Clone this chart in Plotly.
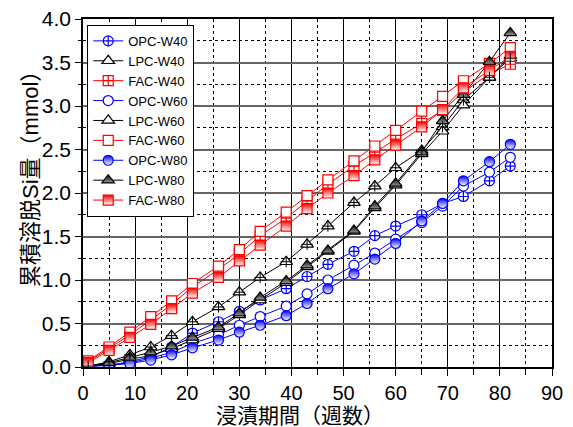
import plotly.graph_objects as go

weeks = [1, 5, 9, 13, 17, 21, 26, 30, 34, 39, 43, 47, 52, 56, 60, 65, 69, 73, 78, 82]

opc_w40 = [0.01, 0.02, 0.06, 0.12, 0.23, 0.39, 0.52, 0.64, 0.77, 0.90, 1.04, 1.18, 1.33, 1.51, 1.62, 1.75, 1.88, 1.96, 2.14, 2.31]
lpc_w40 = [0.01, 0.06, 0.14, 0.23, 0.36, 0.52, 0.69, 0.86, 1.03, 1.21, 1.41, 1.62, 1.89, 2.08, 2.29, 2.49, 2.76, 3.07, 3.33, 3.55]
fac_w40 = [0.06, 0.21, 0.37, 0.54, 0.72, 0.92, 1.12, 1.30, 1.51, 1.71, 1.91, 2.10, 2.31, 2.47, 2.62, 2.80, 2.95, 3.16, 3.37, 3.48]
opc_w60 = [0.01, 0.02, 0.05, 0.10, 0.17, 0.27, 0.37, 0.48, 0.58, 0.70, 0.84, 1.00, 1.17, 1.31, 1.47, 1.66, 1.85, 2.08, 2.24, 2.41]
lpc_w60 = [0.01, 0.04, 0.09, 0.13, 0.21, 0.31, 0.44, 0.60, 0.77, 0.97, 1.15, 1.33, 1.56, 1.83, 2.09, 2.45, 2.71, 3.01, 3.33, 3.58]
fac_w60 = [0.07, 0.23, 0.40, 0.58, 0.76, 0.96, 1.16, 1.35, 1.56, 1.78, 1.97, 2.15, 2.37, 2.54, 2.72, 2.94, 3.11, 3.29, 3.49, 3.67]
opc_w80 = [0.01, 0.02, 0.04, 0.08, 0.14, 0.22, 0.31, 0.40, 0.48, 0.59, 0.73, 0.90, 1.07, 1.24, 1.42, 1.68, 1.88, 2.14, 2.36, 2.56]
lpc_w80 = [0.01, 0.05, 0.11, 0.17, 0.24, 0.34, 0.46, 0.62, 0.80, 0.99, 1.17, 1.34, 1.57, 1.85, 2.11, 2.47, 2.83, 3.13, 3.51, 3.84]
fac_w80 = [0.05, 0.19, 0.34, 0.49, 0.67, 0.85, 1.03, 1.22, 1.40, 1.62, 1.82, 2.00, 2.20, 2.38, 2.55, 2.76, 2.96, 3.21, 3.41, 3.57]

x_title = "浸漬期間（週数）"
y_title = "累積溶脱Si量（mmol）"

BLUE = "#0000ff"
BLACK = "#000000"
RED = "#ff0000"

fig = go.Figure()

def add(name, y, color, symbol, size, gradient=None, fill=None):
    marker = dict(symbol=symbol, size=size, line=dict(color=color, width=1.2))
    marker["color"] = fill if fill is not None else color
    if gradient:
        marker["gradient"] = dict(type="vertical", color=gradient)
    fig.add_trace(go.Scatter(x=weeks, y=y, name=name, mode="lines+markers",
                             line=dict(color=color, width=1), marker=marker))

add("OPC-W40", opc_w40, BLUE, "circle-cross", 10, fill="white")
add("LPC-W40", lpc_w40, BLACK, "triangle-up", 11, fill="white")
add("FAC-W40", fac_w40, RED, "square-cross", 10, fill="white")
add("OPC-W60", opc_w60, BLUE, "circle", 10, fill="white")
add("LPC-W60", lpc_w60, BLACK, "triangle-up", 11, fill="white")
add("FAC-W60", fac_w60, RED, "square", 10, fill="white")
add("OPC-W80", opc_w80, BLUE, "circle", 10, gradient="white")
add("LPC-W80", lpc_w80, BLACK, "triangle-up", 11, gradient="#999999")
add("FAC-W80", fac_w80, RED, "square", 10, gradient="white")

# cross inside the LPC-W40 triangles
fig.add_trace(go.Scatter(x=weeks, y=lpc_w40, mode="markers", showlegend=False,
                         hoverinfo="skip",
                         marker=dict(symbol="cross-thin-open", size=8, color=BLACK,
                                     line=dict(color=BLACK, width=1))))

FONT = "Liberation Sans, Arial, Noto Sans CJK JP"

fig.update_layout(
    width=573, height=427,
    margin=dict(l=83, r=21, t=19, b=60, autoexpand=False),
    paper_bgcolor="white", plot_bgcolor="white",
    font=dict(family=FONT, size=20, color="black"),
    showlegend=True,
    legend=dict(x=0.009, y=0.983, xanchor="left", yanchor="top",
                bgcolor="white", bordercolor="black", borderwidth=1,
                font=dict(size=13, family=FONT), tracegroupgap=0,
                itemsizing="trace"),
    xaxis=dict(range=[0, 90], dtick=10, tick0=0, automargin=False,
               showline=True, linecolor="black", linewidth=1.5, mirror=True,
               ticks="outside", ticklen=7, tickcolor="black",
               showgrid=True, gridcolor="black", gridwidth=1,
               zeroline=False,
               minor=dict(dtick=5, ticks="outside", ticklen=6, tickcolor="black",
                          showgrid=True, gridcolor="black", griddash="dot", gridwidth=1),
               tickfont=dict(size=20)),
    yaxis=dict(range=[0, 4], dtick=0.5, tick0=0, tickformat=".1f", automargin=False,
               showline=True, linecolor="black", linewidth=1.5, mirror=True,
               ticks="outside", ticklen=6, tickcolor="black",
               showgrid=True, gridcolor="#666666", gridwidth=1.5,
               zeroline=False,
               minor=dict(dtick=0.25, ticks="outside", ticklen=3, tickcolor="black",
                          showgrid=True, gridcolor="black", griddash="dot", gridwidth=1),
               tickfont=dict(size=21)),
    annotations=[
        dict(text=x_title, xref="paper", yref="paper", x=(300 - 83) / 469, y=-(415 - 367) / 348,
             xanchor="center", yanchor="middle", showarrow=False,
             font=dict(size=21, family=FONT)),
        dict(text=y_title, xref="paper", yref="paper", x=-(83 - 30) / 469, y=(367 - 174) / 348,
             xanchor="center", yanchor="middle", showarrow=False, textangle=-90,
             font=dict(size=22, family=FONT)),
    ],
)

fig.write_html("out.html")
